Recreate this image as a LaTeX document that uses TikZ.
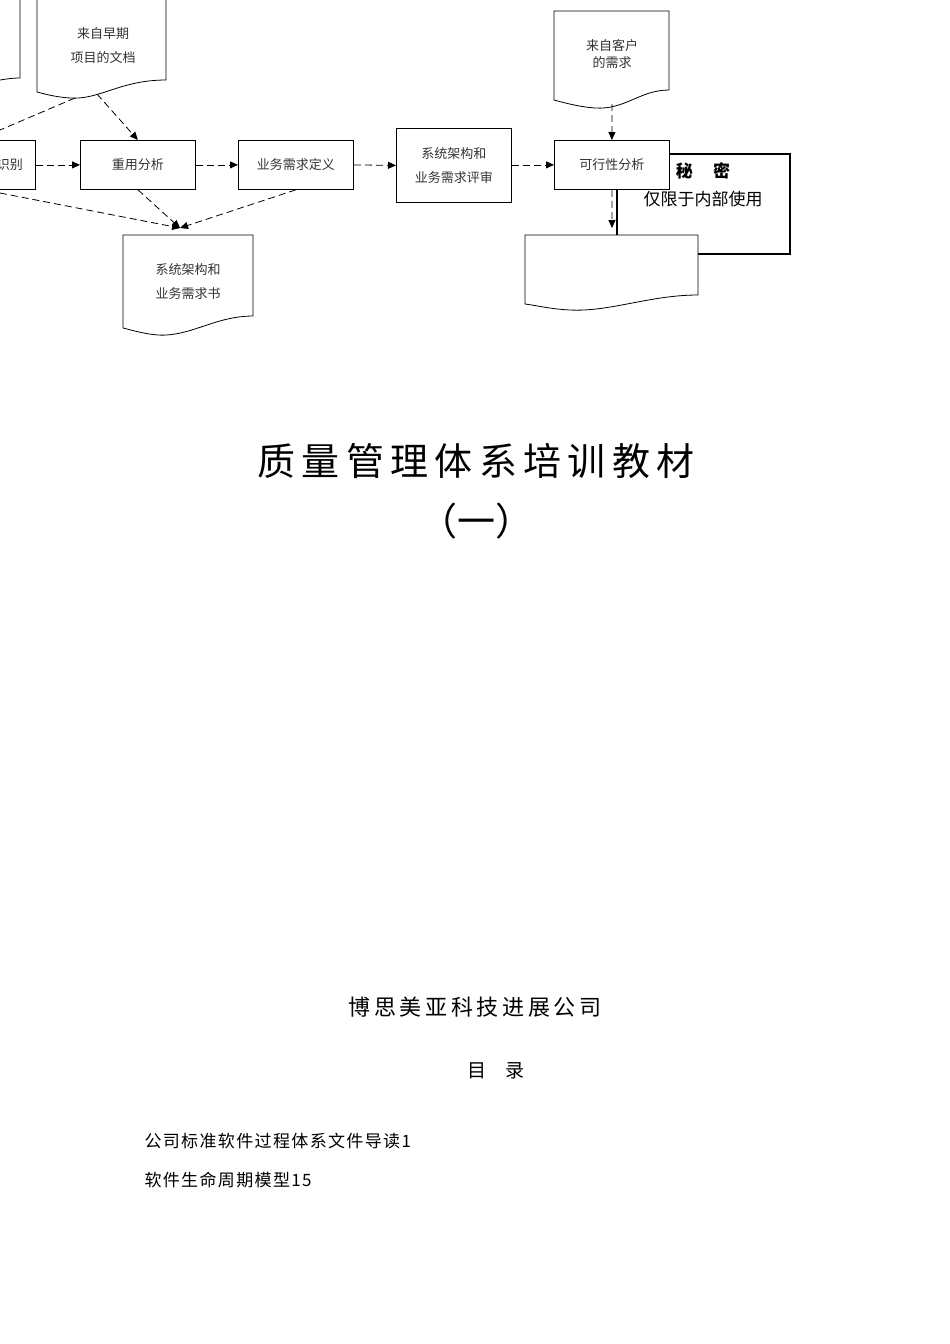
\documentclass[tikz,border=0pt]{standalone}
\usepackage{fontspec}
\setmainfont{Liberation Serif}
\newfontfamily\cjk{Noto Sans CJK SC}
\newfontfamily\cjkls{Noto Sans CJK SC}[LetterSpace=8]
\usetikzlibrary{arrows.meta}
\begin{document}
\begin{tikzpicture}[x=1pt,y=-1pt,
  proc/.style={draw,thick,fill=white,minimum width=115pt,minimum height=49pt,inner sep=0pt,font=\cjk\fontsize{13}{24}\selectfont,align=center,text=black!80},
  lab/.style={font=\cjk\fontsize{13}{24}\selectfont,align=center,text=black!80},
  doc/.style={draw,thick,fill=white},
  flow/.style={dashed,dash pattern=on 7pt off 4pt,thick,-{Triangle[length=8pt,width=7pt]}},
  plain/.style={dashed,dash pattern=on 7pt off 4pt,thick}]
\useasboundingbox (0,0) rectangle (950,1344);
% documents
\draw[doc] (-5,-5) -- (20,-5) -- (20,78) .. controls (10,78) and (0,80) .. (-5,81) -- cycle;
\draw[doc] (37,-5) -- (166,-5) -- (166,80) .. controls (120,80) and (100,100) .. (70,98) .. controls (55,97) and (45,94) .. (37,92) -- cycle;
\node[lab] (early) at (103,46) {来自早期\\项目的文档};
\coordinate (earlyA) at (75,98);
\coordinate (earlyB) at (97,94);
\draw[doc] (554,11) -- (669,11) -- (669,90) .. controls (640,90) and (625,110) .. (595,108) .. controls (580,107) and (565,103) .. (554,100) -- cycle;
\node[lab,font=\cjk\fontsize{13}{17}\selectfont] (cust) at (612,54) {来自客户\\的需求};
\coordinate (custB) at (612,104);
% secret box
\draw[line width=1.5pt] (617,154) rectangle (790,254);
\node[font=\cjk\bfseries\fontsize{17}{20}\selectfont] (sec1) at (703,171) {秘\hspace{1.2em}密};
\node[font=\cjk\fontsize{17}{20}\selectfont] (sec2) at (703,199) {仅限于内部使用};
% process boxes
\node[proc,anchor=north west] (ident) at (-80,140) {\hspace*{64pt}识别};
\node[proc,anchor=north west] (reuse) at (80,140) {重用分析};
\node[proc,anchor=north west] (bdef) at (238,140) {业务需求定义};
\node[proc,anchor=north west,minimum height=74pt] (review) at (396,128) {系统架构和\\业务需求评审};
\node[proc,anchor=north west] (feas) at (554,140) {可行性分析};
% output docs
\draw[doc] (123,235) -- (253,235) -- (253,316) .. controls (215,316) and (190,337) .. (158,335) .. controls (145,334) and (135,331) .. (123,328) -- cycle;
\node[lab] (spec) at (188,282) {系统架构和\\业务需求书};
\coordinate (specT) at (180,228);
\draw[doc] (525,235) -- (698,235) -- (698,295) .. controls (650,295) and (610,312) .. (570,310) .. controls (550,309) and (540,306) .. (525,304) -- cycle;
\node (blank) at (611,270) {};
\coordinate (blankT) at (612,228);
% connectors
\coordinate (offL) at (0,130);
\coordinate (offL2) at (0,193);
\draw[plain] (earlyA) -- (offL);
\draw[flow] (earlyB) -- (reuse.north);
\draw[flow] (ident.east) -- (reuse.west);
\draw[flow] (reuse.east) -- (bdef.west);
\draw[flow] (bdef.east) -- (review.west);
\draw[flow] (review.east |- feas.west) -- (feas.west);
\draw[flow] (offL2) -- (specT);
\draw[flow] (reuse.south) -- (specT);
\draw[flow] (bdef.south) -- (specT);
\draw[flow] (custB) -- (feas.north);
\draw[flow] (feas.south) -- (blankT);
% text
\node[font=\cjk\fontsize{38}{44}\selectfont] (title) at (476,461) {质\,量\,管\,理\,体\,系\,培\,训\,教\,材};
\node[font=\cjk\fontsize{38}{44}\selectfont] (sub) at (476,521) {（一）};
\node[font=\cjk\fontsize{22}{26}\selectfont] (comp) at (475,1007) {博\,思\,美\,亚\,科\,技\,进\,展\,公\,司};
\node[font=\cjk\fontsize{19}{22}\selectfont] (toc) at (496,1071) {目\hspace{1em}录};
\node[font=\cjkls\fontsize{17}{20}\selectfont,anchor=west] (t1) at (141,1141) {公司标准软件过程体系文件导读1};
\node[font=\cjkls\fontsize{17}{20}\selectfont,anchor=west] (t2) at (141,1180) {软件生命周期模型15};
\end{tikzpicture}
\end{document}
